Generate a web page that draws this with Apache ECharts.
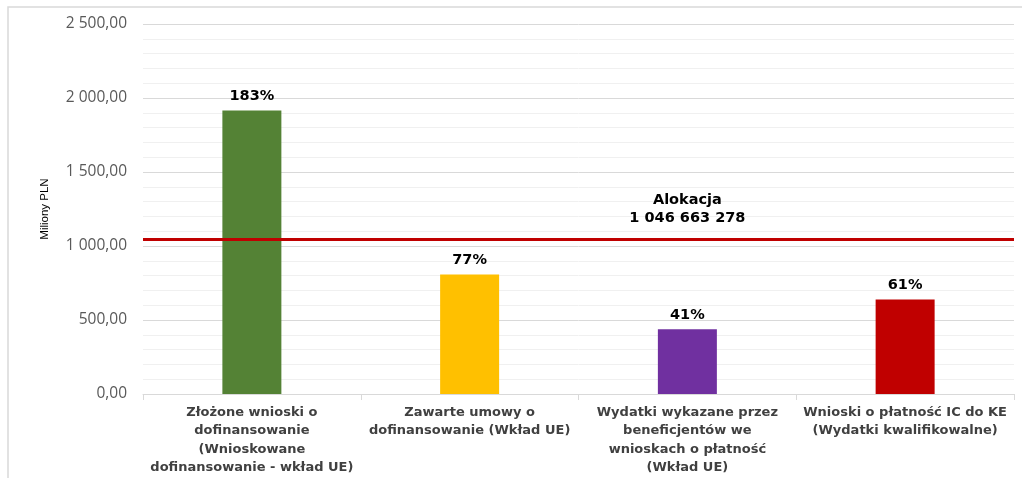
<!DOCTYPE html>
<html lang="pl">
<head>
    <meta charset="utf-8" />
    <title>Alokacja</title>
    <script src="https://cdn.jsdelivr.net/npm/echarts@6/dist/echarts.min.js"></script>
    <style>
        html, body { margin: 0; padding: 0; background: #fff; }
        #main { width: 1022px; height: 478px; }
    </style>
</head>
<body>
<div id="main"></div>
<script>
    let categories = [
        'Złożone wnioski o\ndofinansowanie\n(Wnioskowane\ndofinansowanie - wkład UE)',
        'Zawarte umowy o\ndofinansowanie (Wkład UE)',
        'Wydatki wykazane przez\nbeneficjentów we\nwnioskach o płatność\n(Wkład UE)',
        'Wnioski o płatność IC do KE\n(Wydatki kwalifikowalne)'
    ]
    let values = [1915, 808, 437, 639]
    let percentLabels = ['183%', '77%', '41%', '61%']
    let barColors = ['#548235', '#ffc000', '#7030a0', '#c00000']
    let allocation = 1046.663278
    let allocationText = 'Alokacja\n1 046 663 278'

    function plNumber(v) {
        let parts = v.toFixed(2).split('.')
        return parts[0].replace(/\B(?=(\d{3})+(?!\d))/g, ' ') + ',' + parts[1]
    }

    let chart = echarts.init(document.getElementById('main'))

    chart.setOption({
        animation: false,
        graphic: [{
            type: 'rect',
            shape: { x: 8, y: 7, width: 1040, height: 500 },
            style: { fill: 'none', stroke: '#d9d9d9', lineWidth: 1.5 },
            silent: true
        }],
        grid: { left: 143, right: 8, top: 24, bottom: 84 },
        xAxis: {
            type: 'category',
            data: categories,
            axisLine: { lineStyle: { color: '#d9d9d9' } },
            axisTick: { show: true, length: 6, lineStyle: { color: '#d9d9d9' } },
            axisLabel: {
                interval: 0,
                margin: 9,
                color: '#404040',
                fontFamily: 'DejaVu Sans',
                fontWeight: 'bold',
                fontSize: 13,
                lineHeight: 18.5
            }
        },
        yAxis: {
            type: 'value',
            min: 0,
            max: 2500,
            interval: 500,
            name: 'Miliony PLN',
            nameLocation: 'middle',
            nameGap: 92,
            nameTextStyle: { color: '#000', fontSize: 11.5, fontFamily: 'Liberation Sans' },
            axisLabel: {
                formatter: plNumber,
                color: '#595959',
                fontSize: 15.5,
                fontFamily: 'Open Sans',
                margin: 16
            },
            splitLine: { lineStyle: { color: '#d9d9d9' } },
            minorTick: { show: false, splitNumber: 5 },
            minorSplitLine: { show: true, lineStyle: { color: '#f0f0f0' } }
        },
        series: [{
            type: 'bar',
            barWidth: 59,
            data: values.map((v, i) => ({ value: v, itemStyle: { color: barColors[i] } })),
            label: {
                show: true,
                position: 'top',
                distance: 7,
                formatter: p => percentLabels[p.dataIndex],
                color: '#000',
                fontFamily: 'DejaVu Sans',
                fontWeight: 'bold',
                fontSize: 14.5
            },
            markLine: {
                silent: true,
                symbol: 'none',
                label: { show: false },
                lineStyle: { color: '#c00000', width: 3, type: 'solid' },
                data: [{ yAxis: allocation }]
            },
            markPoint: {
                silent: true,
                symbol: 'circle',
                symbolSize: 0,
                data: [{ coord: [2, allocation] }],
                label: {
                    show: true,
                    position: 'top',
                    distance: 12,
                    formatter: allocationText,
                    color: '#000',
                    fontFamily: 'DejaVu Sans',
                    fontWeight: 'bold',
                    fontSize: 14.5,
                    lineHeight: 18,
                    align: 'center'
                }
            }
        }]
    })
</script>
</body>
</html>
